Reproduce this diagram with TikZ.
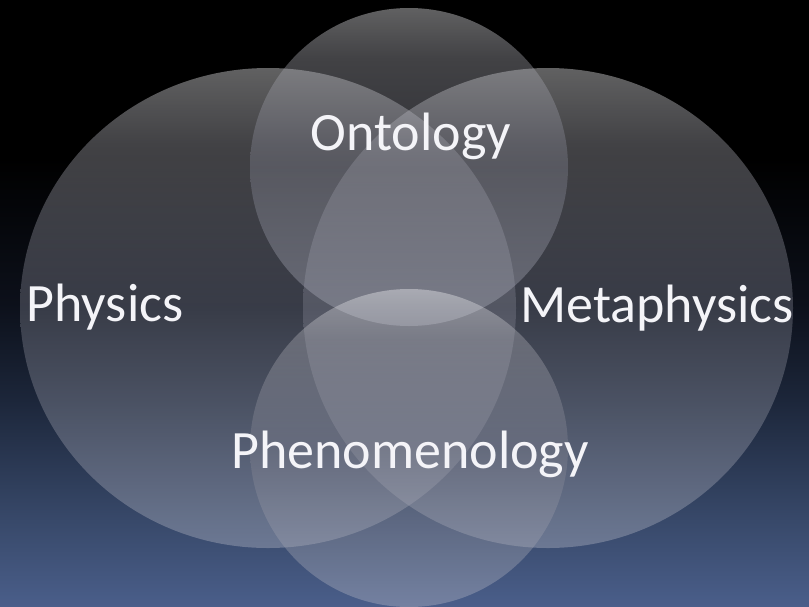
\documentclass[tikz,border=0pt]{standalone}
\usepackage{fontspec}
\setmainfont{Carlito}
\definecolor{bgA}{RGB}{74,94,138}
\definecolor{bgB}{RGB}{56,73,106}
\definecolor{bgC}{RGB}{28,38,58}
\definecolor{bgD}{RGB}{12,16,26}
\definecolor{sA}{RGB}{183,185,198}
\definecolor{sB}{RGB}{126,128,142}
\definecolor{sC}{RGB}{170,170,178}
\definecolor{sD}{RGB}{250,250,252}
\definecolor{labwhite}{RGB}{244,244,248}
\pgfdeclareverticalshading{bgshade}{100bp}{color(0bp)=(bgA); color(25bp)=(bgA); color(32bp)=(bgB); color(42bp)=(bgC); color(50bp)=(bgD); color(62bp)=(black); color(100bp)=(black)}
\pgfdeclareverticalshading{shapeshade}{100bp}{color(0bp)=(sA); color(25bp)=(sA); color(50bp)=(sB); color(67bp)=(sC); color(75bp)=(sD); color(100bp)=(sD)}
\begin{document}
\begin{tikzpicture}[x=1pt,y=-1pt,
  venn/.style={shading=shapeshade, fill opacity=0.39},
  lab/.style={text=labwhite, font=\fontsize{54}{60}\selectfont, inner sep=0pt, anchor=base}]
\useasboundingbox (0,0) rectangle (809,606);
\shade[shading=bgshade] (0,0) rectangle (809,606);
% Physics (left ellipse)
\shade[venn] (268,308) ellipse [x radius=248pt, y radius=240pt];
% Metaphysics (right ellipse)
\shade[venn] (548,308) ellipse [x radius=245pt, y radius=240pt];
% Ontology (top circle)
\shade[venn] (409,167) ellipse [x radius=159pt, y radius=159pt];
% Phenomenology (bottom circle)
\shade[venn] (409,448) ellipse [x radius=159pt, y radius=159pt];
\node[lab] (ont) at (411,150) {Ontology};
\node[lab] (phys) at (105,321) {Physics};
\node[lab] (meta) at (657,322) {Metaphysics};
\node[lab] (phen) at (410,468) {Phenomenology};
\end{tikzpicture}
\end{document}
